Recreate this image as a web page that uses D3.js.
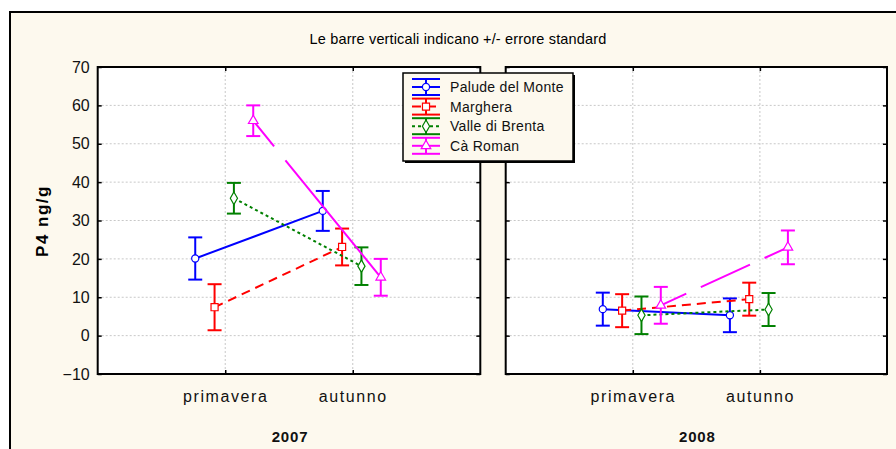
<!DOCTYPE html>
<html>
<head>
<meta charset="utf-8">
<script src="https://cdn.jsdelivr.net/npm/d3@7"></script>
<style>
  body { margin: 0; background: #fff; }
  svg { display: block; }
  text { font-family: "Liberation Sans", Arial, sans-serif; }
</style>
</head>
<body>
<svg id="chart" width="896" height="449"></svg>
<script>
// data
const years = ["2007", "2008"];
const seasons = ["primavera", "autunno"];
const sites = ["Palude del Monte", "Marghera", "Valle di Brenta", "Cà Roman"];
const yTicks = [-10, 0, 10, 20, 30, 40, 50, 60, 70];
// [primavera, autunno] for each site
const mean2007 = [[20.1, 32.5], [7.4, 23.1], [35.8, 18.1], [56.0, 15.2]];
const se2007   = [[5.5, 5.2], [6.0, 4.8], [4.0, 4.9], [4.0, 4.8]];
const mean2008 = [[6.9, 5.3], [6.5, 9.5], [5.3, 6.8], [7.9, 23.0]];
const se2008   = [[4.3, 4.4], [4.3, 4.3], [4.9, 4.3], [4.8, 4.4]];

const colors = ["#0000ff", "#ff0000", "#008000", "#ff00ff"];
const symbols = [d3.symbolCircle, d3.symbolSquare, d3.symbolDiamond, d3.symbolTriangle];
const symSize = [40, 50, 45, 40];
// STATISTICA draws its dashes a bit unevenly, so one pattern per panel
const dashes = [
  [null, "9,6", "3,3", "33,18,400"],
  [null, "9,6", "3,3", "28,16,54,16,400"]
];

const cream = "#fdf9ee";
const svg = d3.select("#chart");

// frame
svg.append("rect").attr("width", 896).attr("height", 449).attr("fill", "#fff");
svg.append("rect")
  .attr("x", 10).attr("y", 12).attr("width", 900).attr("height", 460)
  .attr("fill", cream).attr("stroke", "#000").attr("stroke-width", 2);

svg.append("text")
  .attr("x", 458).attr("y", 44)
  .attr("text-anchor", "middle")
  .attr("font-size", 14.5).attr("letter-spacing", 0.15)
  .text("Le barre verticali indicano +/- errore standard");

svg.append("text")
  .attr("transform", "translate(48,221) rotate(-90)")
  .attr("text-anchor", "middle")
  .attr("font-size", 17).attr("font-weight", "bold")
  .attr("letter-spacing", 1.5)
  .text("P4 ng/g");

const plotTop = 67, plotBottom = 374;
const y = d3.scaleLinear().domain([-10, 70]).range([plotBottom, plotTop]);
const panels = [
  { x0: 97.7, x1: 480.3, means: mean2007, ses: se2007 },
  { x0: 505.7, x1: 887, means: mean2008, ses: se2008 }
];

const dodge = d3.scalePoint().domain(sites).range([-30, 28]);

panels.forEach((p, pi) => {
  const x = d3.scalePoint().domain(seasons).range([p.x0, p.x1]).padding(1);
  const g = svg.append("g");

  g.append("rect")
    .attr("x", p.x0).attr("y", plotTop)
    .attr("width", p.x1 - p.x0).attr("height", plotBottom - plotTop)
    .attr("fill", "#fff");

  // grid
  g.selectAll(".hg").data(yTicks.slice(1, -1)).enter().append("line")
    .attr("x1", p.x0).attr("x2", p.x1)
    .attr("y1", d => y(d)).attr("y2", d => y(d))
    .attr("stroke", "#c8c8c8").attr("stroke-dasharray", "2,2");
  g.selectAll(".vg").data(seasons).enter().append("line")
    .attr("x1", d => x(d)).attr("x2", d => x(d))
    .attr("y1", plotTop).attr("y2", plotBottom)
    .attr("stroke", "#c8c8c8").attr("stroke-dasharray", "2,2");

  // axes with inside ticks
  const left = g.append("g").attr("transform", `translate(${p.x0},0)`)
    .call(d3.axisLeft(y).tickValues(yTicks).tickSize(-4).tickPadding(8));
  if (pi > 0) left.selectAll("text").remove();
  g.append("g").attr("transform", `translate(${p.x1},0)`)
    .call(d3.axisRight(y).tickValues(yTicks).tickSize(-4))
    .selectAll("text").remove();
  g.append("g").attr("transform", `translate(0,${plotTop})`)
    .call(d3.axisTop(x).tickSize(-4))
    .selectAll("text").remove();
  const bx = g.append("g").attr("transform", `translate(0,${plotBottom})`)
    .call(d3.axisBottom(x).tickSize(-4).tickPadding(17));
  g.selectAll(".domain").remove();
  g.selectAll(".tick line").attr("stroke", "#000").attr("stroke-width", 1.5);
  g.selectAll(".tick text")
    .attr("font-family", '"Liberation Sans", Arial, sans-serif')
    .attr("font-size", 16).attr("fill", "#111");
  bx.selectAll("text").attr("letter-spacing", 1.6);

  g.append("rect")
    .attr("x", p.x0).attr("y", plotTop)
    .attr("width", p.x1 - p.x0).attr("height", plotBottom - plotTop)
    .attr("fill", "none").attr("stroke", "#000").attr("stroke-width", 2);

  g.append("text")
    .attr("x", (p.x0 + p.x1) / 2 + 1).attr("y", 442)
    .attr("text-anchor", "middle")
    .attr("font-size", 15).attr("font-weight", "bold").attr("letter-spacing", 0.8)
    .attr("fill", "#111")
    .text(years[pi]);

  // series
  sites.forEach((s, si) => {
    const pts = seasons.map((c, ci) => ({
      x: x(c) + dodge(s),
      m: p.means[si][ci],
      e: p.ses[si][ci]
    }));
    g.append("path")
      .attr("d", d3.line().x(d => d.x).y(d => y(d.m))(pts))
      .attr("fill", "none").attr("stroke", colors[si]).attr("stroke-width", 2)
      .attr("stroke-dasharray", dashes[pi][si]);
    pts.forEach(d => {
      const eb = g.append("g").attr("stroke", colors[si]).attr("stroke-width", 2);
      eb.append("line").attr("x1", d.x).attr("x2", d.x)
        .attr("y1", y(d.m + d.e)).attr("y2", y(d.m - d.e));
      [d.m + d.e, d.m - d.e].forEach(v => {
        eb.append("line").attr("x1", d.x - 7).attr("x2", d.x + 7)
          .attr("y1", y(v)).attr("y2", y(v));
      });
      g.append("path")
        .attr("transform", `translate(${d.x},${y(d.m)})`)
        .attr("d", d3.symbol().type(symbols[si]).size(symSize[si])())
        .attr("fill", "#fff").attr("stroke", colors[si]).attr("stroke-width", 1.2);
    });
  });
});

// legend
const lg = svg.append("g").attr("transform", "translate(403,73)");
lg.append("rect").attr("x", 2).attr("y", 2).attr("width", 170).attr("height", 88).attr("fill", "#000");
lg.append("rect").attr("width", 170).attr("height", 88)
  .attr("fill", cream).attr("stroke", "#000").attr("stroke-width", 1.5);
sites.forEach((s, si) => {
  const cy = 14 + si * 19.6;
  const it = lg.append("g").attr("stroke", colors[si]).attr("stroke-width", 2);
  [cy - 8, cy + 8].forEach(v => it.append("line").attr("x1", 9).attr("x2", 37).attr("y1", v).attr("y2", v));
  it.append("line").attr("x1", 23).attr("x2", 23).attr("y1", cy - 8).attr("y2", cy + 8);
  it.append("line").attr("x1", 9).attr("x2", 37).attr("y1", cy).attr("y2", cy)
    .attr("stroke-dasharray", si === 1 ? "9,6" : si === 2 ? "3,3" : null);
  lg.append("path")
    .attr("transform", `translate(23,${cy})`)
    .attr("d", d3.symbol().type(symbols[si]).size(symSize[si])())
    .attr("fill", "#fff").attr("stroke", colors[si]).attr("stroke-width", 1.2);
  lg.append("text").attr("x", 47).attr("y", cy + 5)
    .attr("font-size", 14).attr("letter-spacing", 0.3).attr("fill", "#111")
    .text(s);
});
</script>
</body>
</html>
